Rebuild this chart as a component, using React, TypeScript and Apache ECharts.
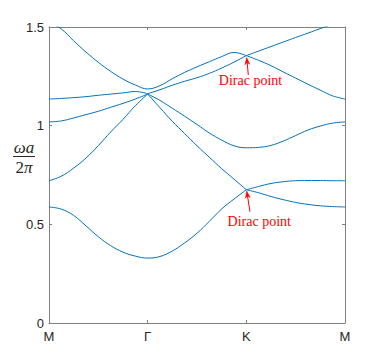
import React, { useEffect, useRef } from 'react';
import * as echarts from 'echarts';

// wave-vector path positions (M -> Γ -> K -> M, equal segments)
const K_PATH = [
  0, 0.125, 0.25, 0.375, 0.5, 0.625, 0.75, 0.875,
  1, 1.125, 1.25, 1.375, 1.5, 1.625, 1.75, 1.875,
  2, 2.125, 2.25, 2.375, 2.5, 2.625, 2.75, 2.875, 3,
];
const X_TICK_LABELS = ['M', 'Γ', 'K', 'M'];
const Y_TICK_VALUES = [0, 0.5, 1, 1.5];

// normalized frequency ωa/2π of each band, read at K_PATH
const BAND_1 = [0.588, 0.577, 0.545, 0.492, 0.437, 0.392, 0.359, 0.339, 0.329, 0.337, 0.365, 0.406, 0.455, 0.515, 0.578, 0.628, 0.675, 0.660, 0.641, 0.625, 0.611, 0.601, 0.594, 0.590, 0.588];
const BAND_2 = [0.721, 0.744, 0.785, 0.836, 0.899, 0.968, 1.032, 1.101, 1.160, 1.091, 1.022, 0.960, 0.898, 0.840, 0.782, 0.729, 0.675, 0.692, 0.707, 0.716, 0.721, 0.722, 0.722, 0.721, 0.721];
const BAND_3 = [1.019, 1.024, 1.039, 1.056, 1.073, 1.093, 1.113, 1.135, 1.160, 1.128, 1.088, 1.048, 1.006, 0.963, 0.927, 0.898, 0.888, 0.890, 0.900, 0.922, 0.950, 0.978, 0.998, 1.013, 1.019];
const BAND_4 = [1.135, 1.138, 1.142, 1.147, 1.154, 1.160, 1.166, 1.173, 1.162, 1.182, 1.205, 1.225, 1.243, 1.265, 1.292, 1.322, 1.355, 1.331, 1.304, 1.272, 1.241, 1.210, 1.180, 1.151, 1.135];
const BAND_5 = [1.525, 1.490, 1.430, 1.373, 1.321, 1.275, 1.236, 1.206, 1.186, 1.203, 1.238, 1.270, 1.298, 1.324, 1.350, 1.371, 1.355, 1.378, 1.401, 1.424, 1.447, 1.469, 1.492, 1.512, 1.520];
const BANDS = [BAND_1, BAND_2, BAND_3, BAND_4, BAND_5];
// indices in K_PATH where a band has a kink (crossing point)
const BAND_KINKS = [[16], [8, 16], [8], [8, 16], [16]];

const ANNOTATION_TEXT = 'Dirac point';
const DIRAC_TIPS = [[2.004, 1.345], [2.004, 0.669]];
const DIRAC_TAILS = [[2.02, 1.257], [2.037, 0.564]];
const DIRAC_LABELS = [[2.042, 1.227], [2.131, 0.513]];

const LINE_COLOR = '#0072BD';
const AXIS_COLOR = '#808080';
const TEXT_COLOR = '#262626';

export default function App() {
  const ref = useRef<HTMLDivElement>(null);
  useEffect(() => {
    const chart = echarts.init(ref.current!, null, { renderer: 'svg' });
    const series: any[] = [];
    BANDS.forEach((band, b) => {
      const cuts = [0, ...BAND_KINKS[b], band.length - 1];
      for (let s = 0; s < cuts.length - 1; s++) {
        const data: number[][] = [];
        for (let i = cuts[s]; i <= cuts[s + 1]; i++) data.push([K_PATH[i], band[i]]);
        series.push({
          type: 'line',
          data,
          smooth: 0.4,
          symbol: 'none',
          showSymbol: false,
          clip: true,
          silent: true,
          lineStyle: { color: LINE_COLOR, width: 1 },
        });
      }
    });
    const xCommon = {
      type: 'value',
      min: 0,
      max: 3,
      interval: 1,
      splitLine: { show: false },
      axisLine: { show: true, onZero: false, lineStyle: { color: AXIS_COLOR, width: 1 } },
      axisTick: { show: true, inside: true, length: 3, lineStyle: { color: AXIS_COLOR } },
    };
    const yCommon = {
      type: 'value',
      min: Y_TICK_VALUES[0],
      max: Y_TICK_VALUES[Y_TICK_VALUES.length - 1],
      interval: 0.5,
      splitLine: { show: false },
      axisLine: { show: true, onZero: false, lineStyle: { color: AXIS_COLOR, width: 1 } },
      axisTick: { show: true, inside: true, length: 3, lineStyle: { color: AXIS_COLOR } },
    };
    chart.setOption({
      animation: false,
      backgroundColor: '#ffffff',
      grid: { left: 49, right: 37, top: 27, bottom: 41, containLabel: false },
      xAxis: [
        {
          ...xCommon,
          position: 'bottom',
          axisLabel: {
            formatter: (v: number) => X_TICK_LABELS[Math.round(v)],
            color: TEXT_COLOR,
            fontSize: 13,
            fontFamily: 'Liberation Sans',
            margin: 7,
          },
        },
        { ...xCommon, position: 'top', axisLabel: { show: false } },
      ],
      yAxis: [
        {
          ...yCommon,
          position: 'left',
          axisLabel: {
            formatter: (v: number) => String(v),
            color: TEXT_COLOR,
            fontSize: 13,
            fontFamily: 'Liberation Sans',
            margin: 5,
          },
        },
        { ...yCommon, position: 'right', axisLabel: { show: false } },
      ],
      series,
    });

    const toPx = (p: number[]) => chart.convertToPixel({ xAxisIndex: 0, yAxisIndex: 0 }, p) as number[];
    const graphic: any[] = [];
    DIRAC_TIPS.forEach((tipD, i) => {
      const tip = toPx(tipD);
      const tail = toPx(DIRAC_TAILS[i]);
      const lab = toPx(DIRAC_LABELS[i]);
      const dx = tip[0] - tail[0];
      const dy = tip[1] - tail[1];
      const len = Math.sqrt(dx * dx + dy * dy);
      const ux = dx / len;
      const uy = dy / len;
      const nx = -uy;
      const ny = ux;
      const hl = 7;
      const hw = 2.4;
      const bx = tip[0] - ux * hl;
      const by = tip[1] - uy * hl;
      graphic.push({
        type: 'line',
        shape: { x1: tail[0], y1: tail[1], x2: bx + ux * 2, y2: by + uy * 2 },
        style: { stroke: '#FF0000', lineWidth: 1 },
        silent: true,
      });
      graphic.push({
        type: 'polygon',
        shape: {
          points: [
            [tip[0], tip[1]],
            [bx + nx * hw, by + ny * hw],
            [bx + ux * 2, by + uy * 2],
            [bx - nx * hw, by - ny * hw],
          ],
        },
        style: { fill: '#FF0000', stroke: '#FF0000', lineWidth: 0.5 },
        silent: true,
      });
      graphic.push({
        type: 'text',
        x: lab[0],
        y: lab[1],
        style: {
          text: ANNOTATION_TEXT,
          fill: '#FF0000',
          font: '14px "Liberation Serif"',
          textAlign: 'center',
          textVerticalAlign: 'middle',
        },
        silent: true,
      });
    });
    // y-axis title: ωa / 2π
    graphic.push({
      type: 'text',
      x: 24,
      y: 147,
      style: {
        text: 'ωa',
        fill: TEXT_COLOR,
        font: 'italic 17px "Liberation Serif"',
        textAlign: 'center',
        textVerticalAlign: 'middle',
      },
      silent: true,
    });
    graphic.push({
      type: 'line',
      shape: { x1: 13, y1: 156.5, x2: 35, y2: 156.5 },
      style: { stroke: TEXT_COLOR, lineWidth: 1 },
      silent: true,
    });
    graphic.push({
      type: 'text',
      x: 24,
      y: 167,
      style: {
        text: '{u|2}{i|π}',
        textAlign: 'center',
        textVerticalAlign: 'middle',
        rich: {
          u: { fontSize: 17, fontFamily: 'Liberation Serif', fill: TEXT_COLOR },
          i: { fontSize: 17, fontFamily: 'Liberation Serif', fontStyle: 'italic', fill: TEXT_COLOR },
        },
      },
      silent: true,
    });
    chart.setOption({ graphic });
    return () => chart.dispose();
  }, []);
  return (
    <div
      ref={ref}
      style={{ position: 'absolute', left: 0, top: 0, width: 382, height: 364, background: '#fff' }}
    />
  );
}
